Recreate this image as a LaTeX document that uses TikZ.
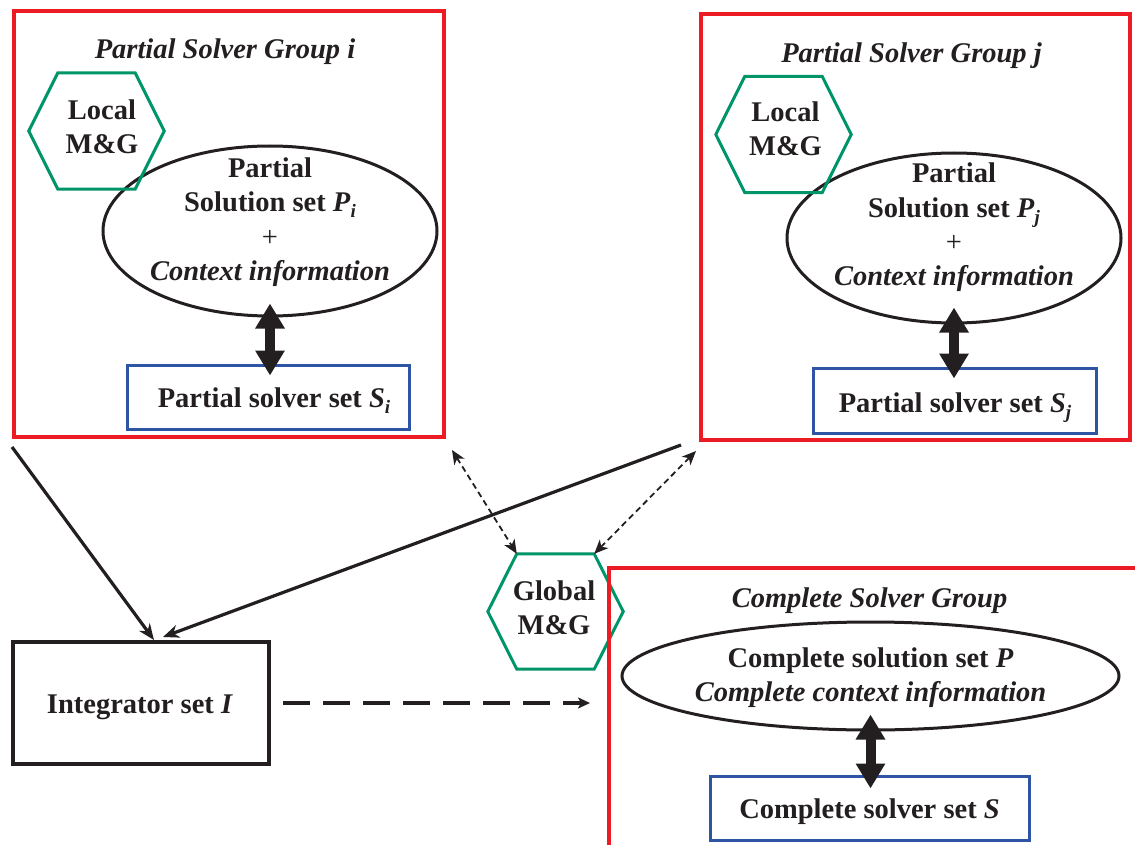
\documentclass[tikz,border=0pt]{standalone}
\usepackage{fontspec}
\setmainfont{Liberation Serif}
\usetikzlibrary{arrows.meta,shapes.geometric}

\definecolor{grpred}{RGB}{237,28,36}
\definecolor{mggreen}{RGB}{0,148,105}
\definecolor{solverblue}{RGB}{46,84,164}
\definecolor{ink}{RGB}{35,31,32}

% lowered italic index, as in P_i
\newcommand{\lowsub}[1]{\raisebox{-6pt}{\fontsize{19}{19}\selectfont\textit{#1}}}
% flat-topped hexagon around a named frame node
\newcommand{\hexoutline}[1]{%
  \draw[hexline] ([xshift=29pt]#1.north west) -- ([xshift=-29pt]#1.north east)
    -- (#1.east) -- ([xshift=-29pt]#1.south east)
    -- ([xshift=29pt]#1.south west) -- (#1.west) -- cycle;}

\tikzset{
  grpbox/.style={draw=grpred, line width=4pt, rectangle, inner sep=0pt},
  hexframe/.style={rectangle, minimum width=135pt, minimum height=116pt, inner sep=0pt},
  hexline/.style={draw=mggreen, line width=3pt, line join=miter},
  setell/.style={draw=ink, line width=3pt, ellipse, inner sep=0pt},
  solverbox/.style={draw=solverblue, line width=3pt, rectangle, inner sep=0pt},
  intbox/.style={draw=ink, line width=4pt, rectangle, inner sep=0pt},
  txt/.style={text=ink, font=\bfseries\fontsize{28.5}{34.3}\selectfont, align=center, inner sep=0pt},
  ttl/.style={txt, font=\bfseries\itshape\fontsize{28.5}{34.3}\selectfont, anchor=base},
  bigarrow/.style={ink, line width=10pt,
    {Triangle[length=25pt,width=28pt]}-{Triangle[length=25pt,width=28pt]}},
  flow/.style={ink, line width=3.2pt, -{Stealth[length=16pt,width=13pt,inset=5pt]}},
  mgarrow/.style={ink, line width=1.8pt, dash pattern=on 6pt off 4pt,
    {Stealth[length=14pt,width=12pt,inset=4pt]}-{Stealth[length=14pt,width=12pt,inset=4pt]}},
  intarrow/.style={ink, line width=4.2pt, dash pattern=on 27pt off 13pt,
    -{Stealth[length=12pt,width=11pt,inset=3pt]}}
}

\begin{document}
\begin{tikzpicture}[x=1pt,y=-1pt]
\useasboundingbox (0,0) rectangle (1135,845);
\clip (0,0) rectangle (1135,845);

% ---------- partial solver group i ----------
\node[grpbox, minimum width=430pt, minimum height=426pt] (gi) at (229,224) {};
\node[ttl] (gi-t) at (225,59) {Partial Solver Group i};
\node[setell, minimum width=334pt, minimum height=170pt] (pi) at (270,231) {};
\node[hexframe] (li) at (96.5,131) {};
\hexoutline{li}
\node[txt] (li-t) at (102,127) {Local\\M\&G};
\node[txt] (pi-t) at (270,222) {Partial\\Solution set \textit{P}\lowsub{i}\\{\mdseries +}\\\textit{Context information}};
\node[solverbox, minimum width=282pt, minimum height=64pt] (si) at (268,397) {};
\node[txt, anchor=base] (si-t) at (274,407) {Partial solver set \textit{S}\lowsub{i}};
\draw[bigarrow] ([yshift=14pt]pi.south) -- ([yshift=-12pt]pi.south |- si.north);

% ---------- partial solver group j ----------
\node[grpbox, minimum width=429pt, minimum height=426pt] (gj) at (915.5,227) {};
\node[ttl] (gj-t) at (911.5,63) {Partial Solver Group j};
\node[setell, minimum width=334pt, minimum height=170pt] (pj) at (954,238) {};
\node[hexframe] (lj) at (783.5,134.5) {};
\hexoutline{lj}
\node[txt] (lj-t) at (785.5,129) {Local\\M\&G};
\node[txt] (pj-t) at (954,227.5) {Partial\\Solution set \textit{P}\lowsub{j}\\{\mdseries +}\\\textit{Context information}};
\node[solverbox, minimum width=283pt, minimum height=65pt] (sj) at (954.5,400.5) {};
\node[txt, anchor=base] (sj-t) at (955,412) {Partial solver set \textit{S}\lowsub{j}};
\draw[bigarrow] ([yshift=17pt]pj.south) -- ([yshift=-12pt]pj.south |- sj.north);

% ---------- global monitor & guide ----------
\node[hexframe, minimum height=115pt] (gm) at (555.5,611.5) {};
\hexoutline{gm}
\node[txt] (gm-t) at (554,607.5) {Global\\M\&G};

% ---------- complete solver group ----------
\node[grpbox, minimum width=531pt, minimum height=282pt] (cg) at (874.5,709) {};
\node[ttl] (cg-t) at (869.5,607) {Complete Solver Group};
\node[setell, minimum width=497pt, minimum height=108pt] (cp) at (870.5,676) {};
\node[txt] (cp-t) at (870.5,677.5) {Complete solution set \textit{P}\\\textit{Complete context information}};
\node[solverbox, minimum width=319pt, minimum height=64pt] (cs) at (869.5,808) {};
\node[txt, anchor=base] (cs-t) at (869.5,818) {Complete solver set \textit{S}};
\draw[bigarrow] ([yshift=17pt]cp.south) -- ([yshift=-14pt]cp.south |- cs.north);

% ---------- integrator ----------
\node[intbox, minimum width=256pt, minimum height=122pt] (int) at (141,703) {};
\node[txt, anchor=base] (int-t) at (140,713) {Integrator set \textit{I}};

% ---------- connectors ----------
\draw[flow] ([yshift=-8pt]gi.south west) -- ([xshift=13pt]int.north);
\draw[flow] ([xshift=-18pt,yshift=-3pt]gj.south west) -- ([xshift=22pt,yshift=3pt]int.north);
\draw[mgarrow] ([xshift=6pt,yshift=-11pt]gi.south east) -- ([xshift=29pt]gm.north west);
\draw[mgarrow] ([xshift=-3pt,yshift=-9pt]gj.south west) -- ([xshift=-29pt]gm.north east);
\draw[intarrow] ([xshift=12pt]int.east) -- ([xshift=-17pt]int.east -| cg.west);
\end{tikzpicture}
\end{document}
